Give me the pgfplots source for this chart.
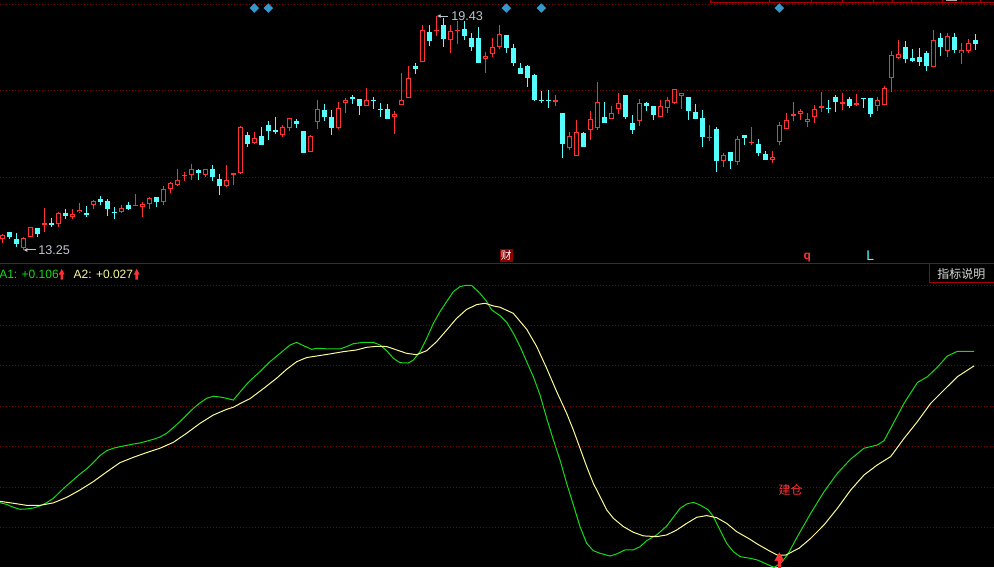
\documentclass[border=0pt]{standalone}
\usepackage{fontspec}
\setmainfont{Liberation Sans}
\newfontfamily\cjk{Noto Sans CJK SC}
\usepackage{pgfplots}
\pgfplotsset{compat=1.18}
\usepackage{pgfplotstable}
\usetikzlibrary{arrows.meta}

\definecolor{upred}{RGB}{255,50,50}
\definecolor{dncyan}{RGB}{84,255,255}
\definecolor{gridc}{RGB}{128,0,0}
\definecolor{sepc}{RGB}{165,0,0}
\definecolor{a1c}{RGB}{20,220,20}
\definecolor{a2c}{RGB}{250,250,150}
\definecolor{diamc}{RGB}{51,153,204}
\definecolor{lblc}{RGB}{190,195,210}
\definecolor{caibg}{RGB}{140,0,0}
\definecolor{boxtxt}{RGB}{215,215,215}

% up candles (close >= open): index, open, high, low, close
\pgfplotstableread{
i o h l c
0 13.55 13.66 13.43 13.64
3 13.30 13.58 13.25 13.57
4 13.60 13.87 13.58 13.85
6 13.91 14.35 13.73 13.95
8 13.93 14.26 13.87 14.22
10 14.11 14.32 14.08 14.19
11 14.25 14.48 14.24 14.31
13 14.45 14.57 14.34 14.54
17 14.25 14.44 14.24 14.35
19 14.42 14.73 14.42 14.44
20 14.38 14.51 14.13 14.47
21 14.46 14.66 14.34 14.61
23 14.53 14.94 14.45 14.85
24 14.87 15.05 14.76 15.01
25 14.96 15.39 14.95 15.09
26 15.20 15.31 15.08 15.24
27 15.24 15.52 15.10 15.38
29 15.24 15.38 15.17 15.38
32 14.95 15.50 14.92 15.09
33 15.24 15.29 14.97 15.28
34 15.28 16.53 15.27 16.49
36 16.07 16.36 16.06 16.21
40 16.30 16.54 16.24 16.49
41 16.46 16.73 16.40 16.73
44 15.85 16.29 15.85 16.26
45 16.64 17.21 16.45 16.97
48 16.46 17.15 16.45 16.99
49 17.12 17.26 16.88 17.21
52 17.06 17.52 17.06 17.20
56 16.77 16.91 16.32 16.83
57 17.07 17.93 17.07 17.20
58 17.27 18.11 17.27 17.78
60 18.21 19.19 18.21 19.05
62 19.03 19.43 18.91 19.06
64 18.79 19.19 18.46 19.03
65 19.03 19.31 18.68 19.07
69 18.30 18.47 17.93 18.37
70 18.42 18.84 18.36 18.60
71 18.62 19.19 18.55 18.95
79 17.17 17.34 17.05 17.20
81 15.95 16.37 15.90 16.25
82 15.74 16.68 15.74 16.36
84 16.43 16.92 16.16 16.71
85 16.48 17.69 16.41 17.15
87 16.72 17.05 16.72 16.86
88 16.97 17.40 16.85 17.12
91 16.65 17.24 16.53 17.12
94 16.77 17.21 16.77 17.04
95 17.01 17.30 16.88 17.21
96 17.14 17.49 17.11 17.49
97 17.31 17.39 16.97 17.39
101 16.20 16.55 16.14 16.23
103 15.61 15.82 15.45 15.76
105 15.58 16.26 15.50 16.18
107 16.07 16.50 16.01 16.10
110 15.64 15.86 15.56 15.71
111 16.11 16.63 16.01 16.54
112 16.45 16.87 16.45 16.68
113 16.80 17.16 16.67 16.83
114 16.85 16.98 16.69 16.92
115 16.64 16.86 16.51 16.71
116 16.75 17.07 16.61 16.97
117 17.00 17.42 16.90 17.04
120 17.11 17.40 16.95 17.16
122 17.08 17.37 17.04 17.12
125 17.06 17.29 16.93 17.21
126 17.09 17.57 17.09 17.53
127 17.78 18.51 17.43 18.39
128 18.33 18.80 18.29 18.42
133 18.09 19.06 18.09 18.79
135 18.51 18.97 18.36 18.90
137 18.44 18.71 18.17 18.52
138 18.51 18.82 18.46 18.71
}\upk

% down candles (close < open)
\pgfplotstableread{
i o h l c
1 13.72 13.72 13.53 13.58
2 13.54 13.69 13.34 13.41
5 13.82 13.82 13.60 13.67
7 13.97 14.09 13.87 13.91
9 14.24 14.32 14.08 14.15
12 14.23 14.41 14.13 14.17
14 14.60 14.68 14.43 14.52
15 14.54 14.59 14.16 14.32
16 14.25 14.38 14.07 14.22
18 14.44 14.52 14.31 14.33
22 14.65 14.65 14.39 14.51
28 15.36 15.39 15.10 15.28
30 15.38 15.50 15.08 15.17
31 15.12 15.26 14.71 14.95
35 16.29 16.36 15.98 16.06
37 16.26 16.50 16.03 16.03
38 16.54 16.66 16.16 16.39
39 16.42 16.75 16.32 16.37
42 16.66 16.71 16.47 16.58
43 16.38 16.38 15.82 15.82
46 16.94 17.11 16.67 16.77
47 16.76 16.94 16.30 16.48
50 17.29 17.34 17.10 17.24
51 17.23 17.23 16.82 17.04
53 17.22 17.28 16.98 17.18
54 16.97 17.12 16.76 16.94
55 16.97 17.10 16.72 16.72
59 18.11 18.18 17.91 18.04
61 19.00 19.19 18.65 18.78
63 19.19 19.37 18.62 18.83
66 19.10 19.31 18.80 18.91
67 18.85 18.97 18.51 18.62
68 18.85 19.13 18.18 18.20
72 18.93 18.93 18.44 18.59
73 18.58 18.68 18.12 18.20
74 18.06 18.18 17.91 17.91
75 18.11 18.13 17.56 17.78
76 17.87 17.90 17.19 17.21
77 17.22 17.45 17.14 17.19
78 17.22 17.48 17.01 17.19
80 16.86 16.86 15.69 16.06
83 16.34 16.36 15.98 15.98
86 16.76 17.16 16.61 16.61
89 17.34 17.34 16.71 16.77
90 16.60 16.82 16.32 16.43
92 17.13 17.16 16.92 17.06
93 17.05 17.05 16.69 16.82
98 17.28 17.28 16.69 16.93
99 16.89 17.11 16.72 16.72
100 16.74 16.95 15.98 16.24
102 16.45 16.49 15.32 15.60
104 15.83 15.83 15.40 15.61
106 16.29 16.29 16.03 16.22
108 16.05 16.18 15.72 15.82
109 15.79 15.86 15.64 15.64
118 17.01 17.21 16.86 16.97
119 17.29 17.34 16.90 17.17
121 17.24 17.28 17.01 17.06
123 17.25 17.27 17.01 17.23
124 17.27 17.27 16.77 16.85
129 18.61 18.77 18.18 18.30
130 18.32 18.55 18.22 18.24
131 18.35 18.58 18.12 18.21
132 18.45 18.50 17.99 18.12
134 18.85 18.99 18.38 18.62
136 18.88 18.99 18.44 18.53
139 18.80 18.96 18.53 18.70
}\dnk

\pgfplotsset{
  panel/.style={scale only axis, width=745.5pt, xmin=-0.329, xmax=141.67,
    axis line style={draw=none}, tick style={draw=none}, major tick length=0pt,
    xtick=\empty, yticklabels={}, ymajorgrids,
    major grid style={line width=0.75pt, dash pattern=on 0.75pt off 1.5pt, gridc}},
  bars/.style 2 args={draw=none, no markers, error bars/.cd, y dir=plus, y explicit,
    error mark=none, error bar style={draw=#2, line width=#1, line cap=butt, solid}},
}

\newcommand\redup[1]{\fill[upred] (#1-2.2pt,219.3pt) -- (#1,223.6pt) -- (#1+2.2pt,219.3pt)
  -- (#1+0.9pt,219.3pt) -- (#1+0.9pt,215.5pt) -- (#1-0.9pt,215.5pt) -- (#1-0.9pt,219.3pt) -- cycle;}

\begin{document}
\begin{tikzpicture}
\fill[black] (0,0) rectangle (745.5pt,425.25pt);

% price panel
\begin{axis}[panel, at={(0pt,227.25pt)}, anchor=south west, height=198pt,
  ymin=12.88, ymax=19.853, ytick={15.169,17.467,19.738}]
\addplot[bars={0.75pt}{upred}] table[x=i, y=l, y error expr=\thisrow{h}-\thisrow{l}] {\upk};
\addplot[bars={0.75pt}{dncyan}] table[x=i, y=l, y error expr=\thisrow{h}-\thisrow{l}] {\dnk};
\addplot[bars={3.75pt}{dncyan}] table[x=i, y=c, y error expr={max(\thisrow{o}-\thisrow{c},0.03)}] {\dnk};
\addplot[bars={3.75pt}{upred}] table[x=i, y=o, y error expr={max(\thisrow{c}-\thisrow{o},0.03)}] {\upk};
\addplot[bars={2.25pt}{black}] table[x=i, y expr=\thisrow{o}+0.026, y error expr={max(\thisrow{c}-\thisrow{o}-0.052,0)}] {\upk};
\addplot[only marks, mark=square*, mark size=2.3pt, mark options={rotate=45, fill=diamc, draw=diamc}]
  coordinates {(36,19.64) (38,19.64) (72,19.64) (77,19.64) (111,19.64)};
\draw[lblc, line width=0.75pt, -{Latex[length=3pt,width=3pt]}] (axis cs:4.85,13.25) -- (axis cs:3.0,13.25);
\node[anchor=west, inner sep=0pt, text=lblc, font=\fontsize{9.5}{10}\selectfont] at (axis cs:5.1,13.25) {13.25};
\draw[lblc, line width=0.75pt, -{Latex[length=3pt,width=3pt]}] (axis cs:63.7,19.43) -- (axis cs:62.06,19.43);
\node[anchor=west, inner sep=0pt, text=lblc, font=\fontsize{9.5}{10}\selectfont] at (axis cs:64.1,19.43) {19.43};
\node[fill=caibg, text=white, inner sep=0pt, minimum size=9.75pt, font=\cjk\fontsize{8}{8}\selectfont] at (axis cs:72,13.10) {财};
\node[text=upred, inner sep=0pt, font=\bfseries\fontsize{9}{9}\selectfont] at (axis cs:115,13.05) {q};
\node[text=dncyan, inner sep=0pt, font=\fontsize{10.5}{10.5}\selectfont] at (axis cs:124,13.09) {L};
\end{axis}

% indicator panel
\begin{axis}[panel, at={(0pt,0pt)}, anchor=south west, height=227.25pt,
  ymin=-1.028, ymax=0.569, ytick={0.457,0.246,0.035,-0.181,-0.392,-0.608,-0.818}]
\addplot[a1c, line width=0.75pt] coordinates {
(-0.33,-0.689) (0.62,-0.698) (1.57,-0.713) (2.52,-0.724) (3.48,-0.722) (4.43,-0.717)
(5.38,-0.706) (6.33,-0.689) (7.29,-0.666) (8.24,-0.632) (9.19,-0.599) (10.14,-0.569)
(11.10,-0.538) (12.05,-0.511) (13.0,-0.478) (13.95,-0.441) (14.9,-0.415) (15.86,-0.402)
(16.81,-0.394) (17.76,-0.387) (18.71,-0.380) (19.67,-0.374) (20.62,-0.365) (21.57,-0.355)
(22.52,-0.343) (23.48,-0.323) (24.43,-0.293) (25.38,-0.262) (26.33,-0.227) (27.29,-0.192)
(28.24,-0.163) (29.19,-0.139) (30.14,-0.128) (31.1,-0.132) (32.05,-0.139) (33.0,-0.148)
(33.95,-0.106) (34.9,-0.065) (35.39,-0.046) (36.81,0.002) (38.24,0.054) (39.67,0.098)
(41.1,0.142) (42.05,0.156) (43.0,0.139) (44.2,0.119) (44.91,0.125) (46.81,0.121)
(48.24,0.121) (49.2,0.134) (50.15,0.149) (51.58,0.156) (53.0,0.156) (53.96,0.142)
(54.91,0.112) (55.86,0.072) (56.81,0.049) (58.0,0.047) (58.72,0.063) (59.67,0.107)
(60.62,0.177) (61.58,0.256) (62.53,0.318) (63.48,0.371) (64.43,0.423) (65.39,0.450)
(66.34,0.457) (67.05,0.456) (68.24,0.415) (69.2,0.371) (69.91,0.327) (71.1,0.297)
(72.05,0.262) (73.0,0.204) (73.96,0.134) (74.91,0.054) (75.86,-0.025) (76.81,-0.121)
(77.77,-0.244) (78.72,-0.358) (79.67,-0.464) (80.62,-0.587) (81.58,-0.701) (82.53,-0.815)
(83.48,-0.903) (84.43,-0.942) (85.39,-0.956) (86.81,-0.970) (87.77,-0.959) (88.96,-0.938)
(90.15,-0.938) (91.1,-0.921) (92.05,-0.889) (93.48,-0.859) (94.91,-0.812) (95.86,-0.766)
(96.81,-0.719) (97.77,-0.696) (98.72,-0.687) (99.67,-0.701) (100.86,-0.727) (101.58,-0.763)
(102.53,-0.833) (103.48,-0.903) (104.43,-0.947) (105.39,-0.973) (106.81,-0.982) (107.86,-0.991)
(109.77,-1.022) (110.25,-1.030) (111.2,-1.008) (112.15,-0.965) (113.58,-0.868) (115.48,-0.745)
(117.39,-0.631) (119.29,-0.534) (121.2,-0.459) (123.1,-0.402) (125.0,-0.385) (125.96,-0.362)
(126.91,-0.297) (128.82,-0.165) (130.72,-0.056) (132.15,-0.025) (133.58,0.025) (135.0,0.084)
(136.44,0.109) (138.82,0.109)};
\addplot[a2c, line width=0.75pt] coordinates {
(-0.33,-0.682) (1.57,-0.692) (3.48,-0.703) (5.38,-0.703) (7.29,-0.690) (9.19,-0.661)
(11.1,-0.622) (13.0,-0.578) (14.9,-0.527) (16.81,-0.478) (18.71,-0.450) (20.62,-0.425)
(22.52,-0.402) (24.43,-0.371) (26.33,-0.323) (28.24,-0.271) (30.14,-0.227) (32.05,-0.197)
(33.0,-0.186) (33.95,-0.167) (35.38,-0.141) (37.29,-0.088) (39.19,-0.033) (40.62,0.014)
(42.05,0.054) (43.48,0.076) (44.91,0.084) (46.81,0.095) (48.72,0.107) (50.62,0.116)
(52.05,0.130) (53.48,0.135) (54.91,0.134) (56.34,0.116) (57.77,0.098) (59.2,0.091)
(60.62,0.112) (62.05,0.160) (63.48,0.221) (64.91,0.283) (66.34,0.330) (67.77,0.355)
(68.96,0.362) (70.15,0.348) (71.1,0.341) (73.0,0.309) (74.91,0.225) (76.34,0.134)
(77.77,0.019) (79.2,-0.104) (80.62,-0.218) (81.58,-0.306) (82.53,-0.402) (83.48,-0.499)
(84.43,-0.587) (85.39,-0.657) (86.34,-0.727) (87.29,-0.771) (88.72,-0.815) (90.15,-0.845)
(91.58,-0.864) (93.48,-0.868) (94.91,-0.859) (96.34,-0.833) (97.77,-0.798) (99.2,-0.766)
(100.62,-0.757) (102.05,-0.768) (103.48,-0.798) (104.91,-0.842) (106.81,-0.882) (107.86,-0.907)
(109.77,-0.947) (110.72,-0.965) (111.91,-0.965) (113.82,-0.929) (115.48,-0.877) (117.39,-0.806)
(119.29,-0.719) (121.2,-0.622) (123.1,-0.543) (125.0,-0.490) (126.91,-0.446) (128.82,-0.350)
(130.72,-0.262) (132.63,-0.165) (134.53,-0.095) (136.44,-0.025) (138.82,0.032)};
% buy signal arrow
\addplot[upred, line width=2.5pt] coordinates {(111,-0.991) (111,-1.04)};
\addplot[only marks, mark=triangle*, mark size=3.9pt, mark options={fill=upred, draw=upred}] coordinates {(111,-0.981)};
\node[text=upred, inner sep=0pt, font=\cjk\fontsize{9}{9}\selectfont] at (axis cs:112.6,-0.624) {建仓};
\end{axis}

% panel separator, legend and info box
\draw[sepc, line width=0.75pt] (0,227.25pt) -- (745.5pt,227.25pt);
\draw[sepc, line width=0.75pt] (696.75pt,227.25pt) -- (696.75pt,213pt) -- (745.5pt,213pt);
\node[text=boxtxt, inner sep=0pt, font=\cjk\fontsize{9}{9}\selectfont] at (721.1pt,220.1pt) {指标说明};
\node[anchor=west, inner sep=0pt, text=a1c, font=\fontsize{9}{9}\selectfont] at (-0.75pt,219.4pt) {A1: +0.106};
\redup{46.3pt}
\node[anchor=west, inner sep=0pt, text=a2c, font=\fontsize{9}{9}\selectfont] at (55pt,219.4pt) {A2: +0.027};
\redup{102.5pt}

% top-right strip
\draw[sepc, line width=0.75pt] (532.5pt,425.25pt) -- (532.5pt,423pt) -- (745.5pt,423pt);
\foreach \xx in {576.75,608.25,631.5,654.75,669,683.25,706.5,720.75,735}
  \draw[sepc, line width=0.75pt] (\xx pt,423pt) -- (\xx pt,425.25pt);
\fill[gray!70] (709.5pt,424.4pt) rectangle (717.75pt,425.25pt);

\pgfresetboundingbox
\path[use as bounding box] (0,0) rectangle (745.5pt,425.25pt);
\end{tikzpicture}
\end{document}
